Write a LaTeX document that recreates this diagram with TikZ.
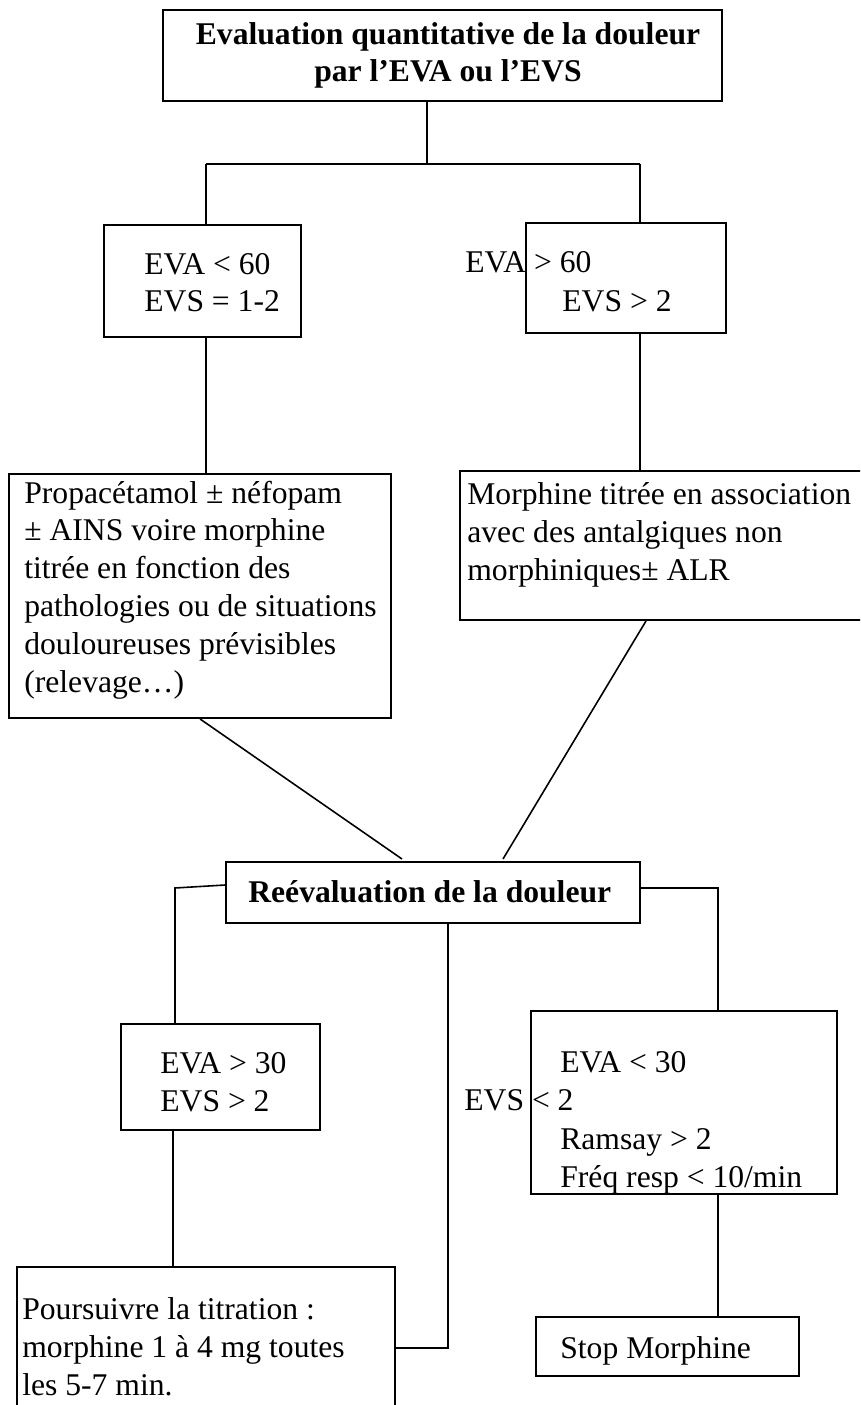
\documentclass[tikz,border=0pt]{standalone}
\usepackage{fontspec}
\setmainfont{Liberation Serif}
\begin{document}
\begin{tikzpicture}[x=0.02cm, y=-0.02cm]
        \useasboundingbox (0, 0) rectangle (860, 1405);
        \clip (0, 0) rectangle (860, 1405);
        %boxes
        \begin{scope}[every node/.style = {draw, rectangle, line width = 1.1pt, inner sep = 0pt}]
          \node[minimum width = 11.18cm, minimum height = 1.82cm] (titre) at (442.5, 55.5) {};
          \node[minimum width = 3.94cm, minimum height = 2.24cm] (evaA) at (202.5, 281) {};
          \node[minimum width = 4cm, minimum height = 2.2cm] (evaB) at (626, 278) {};
          \node[minimum width = 7.64cm, minimum height = 4.88cm] (propa) at (200, 596) {};
          \node[minimum width = 8.4cm, minimum height = 2.98cm] (morph) at (670, 545.5) {};
          \node[minimum width = 8.28cm, minimum height = 1.22cm] (reeval) at (433, 892.5) {};
          \node[minimum width = 3.98cm, minimum height = 2.12cm] (evaC) at (220.5, 1077) {};
          \node[minimum width = 6.12cm, minimum height = 3.66cm] (evaD) at (684, 1102.5) {};
          \node[minimum width = 5.26cm, minimum height = 1.18cm] (stop) at (667.5, 1346.5) {};
          \node[minimum width = 7.56cm, minimum height = 3.46cm] (pours) at (206, 1353.5) {};
        \end{scope}
        %texts (base = last line)
        \begin{scope}[every node/.style = {anchor = base west, align = left, inner sep = 0pt, font = \fontsize{18}{21.5}\selectfont}]
          \node[anchor = base, align = center, font = \fontsize{18}{21.5}\selectfont\bfseries] (titre-t) at (448, 82) {Evaluation quantitative de la douleur\\par l’EVA ou l’EVS};
          \node (evaA-t) at (144, 312) {EVA < 60\\EVS = 1-2};
          \node (evaB-t1) at (465, 273) {EVA > 60};
          \node (evaB-t2) at (562, 312) {EVS > 2};
          \node (propa-t) at (24, 692) {Propacétamol ± néfopam\\± AINS voire morphine\\titrée en fonction des\\pathologies ou de situations\\douloureuses prévisibles\\(relevage…)};
          \node (morph-t) at (467, 580) {Morphine titrée en association\\avec des antalgiques non\\morphiniques± ALR};
          \node[font = \fontsize{18}{21.5}\selectfont\bfseries] (reeval-t) at (248, 902) {Reévaluation de la douleur};
          \node (evaC-t) at (160, 1111) {EVA > 30\\EVS > 2};
          \node (evaD-t1) at (560, 1072) {EVA < 30};
          \node (evaD-t2) at (464, 1110) {EVS < 2};
          \node (evaD-t3) at (560, 1187) {Ramsay > 2\\Fréq resp < 10/min};
          \node (stop-t) at (560, 1358) {Stop Morphine};
          \node (pours-t) at (22, 1395) {Poursuivre la titration :\\morphine 1 à 4 mg toutes\\les 5-7 min.};
        \end{scope}
        %edges
        \coordinate (f0) at (427, 164);
        \coordinate (fL) at (206, 164);
        \coordinate (fR) at (640, 164);
        \coordinate (dA) at (402, 859);
        \coordinate (dB) at (503, 859);
        \coordinate (mB) at (646, 0);
        \coordinate (gL) at (175, 888);
        \coordinate (gR) at (718, 888);
        \coordinate (gM) at (448, 1348);
        \coordinate (gC) at (173, 0);
        \begin{scope}[line width = 0.9pt]
          \path [draw] (titre.south -| f0) to (f0);
          \path [draw] (fL) to (fR);
          \path [draw] (fL) to (evaA.north -| fL);
          \path [draw] (fR) to (evaB.north -| fR);
          \path [draw] (evaA.south -| fL) to (propa.north -| fL);
          \path [draw] (evaB.south -| fR) to (morph.north -| fR);
          \path [draw] (propa.south) to (dA);
          \path [draw] (morph.south -| mB) to (dB);
          \path [draw] ([yshift = 0.15cm]reeval.west) -- (gL) -- (evaC.north -| gL);
          \path [draw] ([yshift = 0.09cm]reeval.east) -- (gR) -- (evaD.north -| gR);
          \path [draw] (reeval.south -| gM) -- (gM) -- (pours.east |- gM);
          \path [draw] (evaC.south -| gC) to (pours.north -| gC);
          \path [draw] (evaD.south -| gR) to (stop.north -| gR);
        \end{scope}
      \end{tikzpicture}
\end{document}
